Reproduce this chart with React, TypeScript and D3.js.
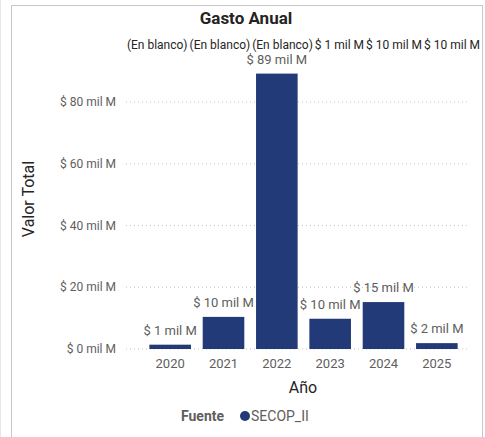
import { useMemo } from "react";
import * as d3 from "d3";

const years = ["2020", "2021", "2022", "2023", "2024", "2025"];
const valores = [1.4, 10.4, 89.2, 9.8, 15.2, 1.9];
const topLabels = ["(En blanco)", "(En blanco)", "(En blanco)", "$ 1 mil M", "$ 10 mil M", "$ 10 mil M"];
const yTicks = [0, 20, 40, 60, 80];

const W = 485;
const H = 437;
const FONT = "'Segoe UI', Roboto, 'Noto Sans', sans-serif";
const BAR = "#233a78";

const fmt = (v: number) => `$ ${Math.round(v)} mil M`;

const App = () => {
  const x = d3.scaleBand<string>().domain(years).range([143.5, 463.5]).paddingInner(0.22).paddingOuter(0.11);
  const y = d3.scaleLinear().domain([0, 80]).range([349, 102]);

  // top row labels collide, so pack them side by side around the middle of the bars
  const topPos = useMemo(() => {
    const ctx = document.createElement("canvas").getContext("2d") as CanvasRenderingContext2D;
    ctx.font = `12px ${FONT}`;
    const widths = topLabels.map((t) => ctx.measureText(t).width);
    const gap = 2;
    const total = d3.sum(widths) + gap * (widths.length - 1);
    const mid = d3.mean(years, (yr) => (x(yr) as number) + x.bandwidth() / 2) as number;
    let cur = mid - total / 2;
    return widths.map((w) => {
      const l = cur;
      cur += w + gap;
      return l;
    });
  }, []);

  return (
    <svg width={W} height={H} style={{ position: "absolute", left: 0, top: 0 }} fontFamily={FONT}>
      <rect x={0} y={0} width={W} height={H} fill="#fff" />
      <line x1={0.5} y1={0} x2={0.5} y2={H} stroke="#e6e6e6" />
      <rect x={11.5} y={5.5} width={471} height={H} fill="none" stroke="#c8c8c8" />

      <text x={246} y={24} textAnchor="middle" fontSize={17} fontWeight={700} fill="#252423">
        Gasto Anual
      </text>

      {topLabels.map((t, i) => (
        <text key={"t" + i} x={topPos[i]} y={49} fontSize={12} fill="#252423">
          {t}
        </text>
      ))}

      {yTicks.map((t) => (
        <g key={t}>
          <line x1={126} x2={470} y1={y(t)} y2={y(t)} stroke="#c8c6c4" strokeDasharray="1,3" />
          <text x={116} y={y(t)} dy="0.35em" textAnchor="end" fontSize={12} fill="#605e5c">
            {fmt(t)}
          </text>
        </g>
      ))}

      {years.map((yr, i) => (
        <g key={yr}>
          <rect x={x(yr)} y={y(valores[i])} width={x.bandwidth()} height={y(0) - y(valores[i])} fill={BAR} />
          <text
            x={(x(yr) as number) + x.bandwidth() / 2}
            y={y(valores[i]) - 10}
            textAnchor="middle"
            fontSize={13}
            fill="#605e5c"
          >
            {fmt(valores[i])}
          </text>
          <text x={(x(yr) as number) + x.bandwidth() / 2} y={368} textAnchor="middle" fontSize={13} fill="#605e5c">
            {yr}
          </text>
        </g>
      ))}

      <text transform="translate(34,199) rotate(-90)" textAnchor="middle" fontSize={16} fill="#252423">
        Valor Total
      </text>
      <text x={303} y={393} textAnchor="middle" fontSize={16} fill="#252423">
        Año
      </text>

      <text x={181} y={421} fontSize={14} fontWeight={700} fill="#605e5c">
        Fuente
      </text>
      <circle cx={245} cy={416} r={5} fill={BAR} />
      <text x={251} y={421} fontSize={14} fill="#605e5c">
        SECOP_II
      </text>
    </svg>
  );
};

export default App;
